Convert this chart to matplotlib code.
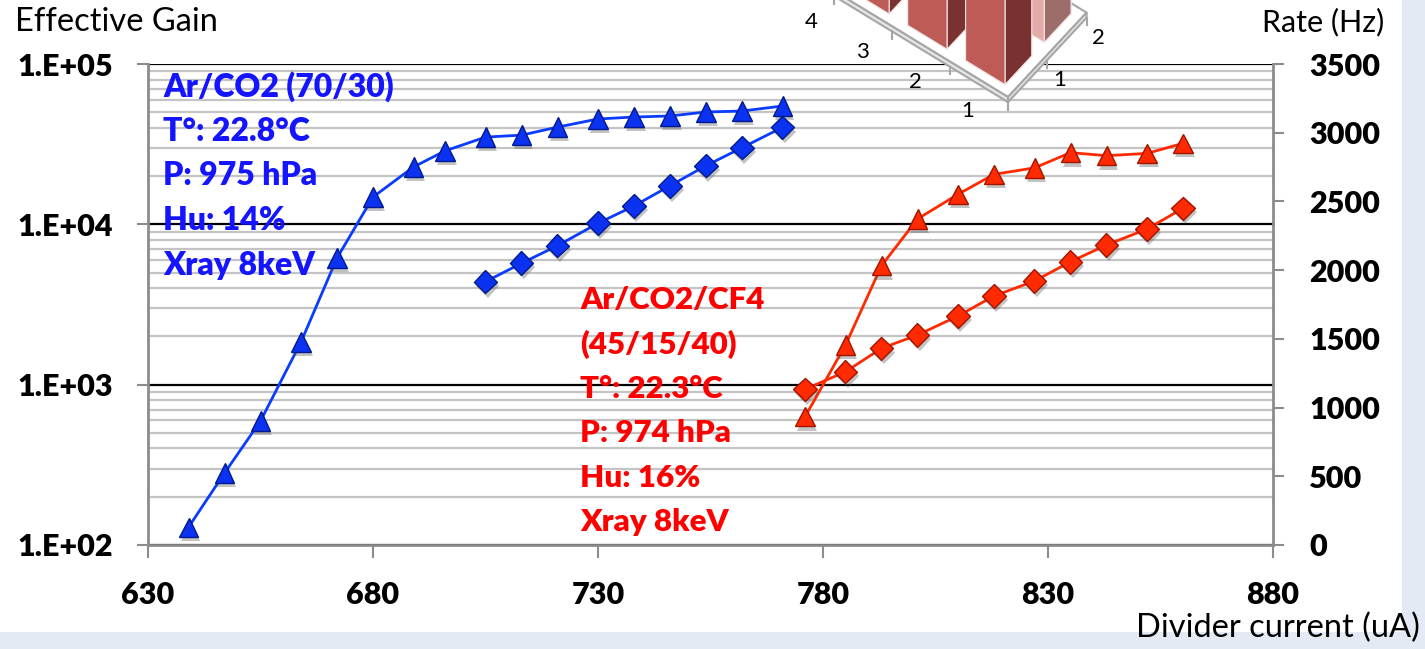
import matplotlib
matplotlib.use('Agg')
import matplotlib.pyplot as plt
import matplotlib.patheffects as pe
import numpy as np
from matplotlib.patches import Rectangle
from matplotlib.ticker import FixedLocator, LogLocator, NullFormatter
from mpl_toolkits.mplot3d import proj3d
from mpl_toolkits.mplot3d.art3d import Poly3DCollection

plt.rcParams['font.family'] = ['Lato', 'DejaVu Sans']

# Ar/CO2 (70/30) : gain (triangles) and rate (diamonds)
blueGainI = [639, 647, 655, 664, 672, 680, 689, 696, 705, 713, 721, 730, 738, 746, 754, 762, 771]
blueGain = [129, 281, 593, 1845, 6160, 14800, 22800, 28700, 35000, 36000, 40400, 45400, 46700, 47400,
             50200, 50900, 54700]
blueRateI = [705, 713, 721, 730, 738, 746, 754, 762, 771]
blueRate = [1916, 2050, 2178, 2341, 2467, 2614, 2760, 2891, 3039]

# Ar/CO2/CF4 (45/15/40)
redI = [776, 785, 793, 801, 810, 818, 827, 835, 843, 852, 860]
redGain = [631, 1766, 5520, 10800, 15400, 20500, 22500, 28000, 26800, 27700, 32000]
redRate = [1133, 1261, 1431, 1528, 1666, 1812, 1921, 2061, 2183, 2299, 2450]

xTicks = [630, 680, 730, 780, 830, 880]
rateTicks = [0, 500, 1000, 1500, 2000, 2500, 3000, 3500]
gainTicks = [1e2, 1e3, 1e4, 1e5]
gainLabels = ['1.E+02', '1.E+03', '1.E+04', '1.E+05']

blueText = ['Ar/CO2 (70/30)', 'T°: 22.8°C', 'P: 975 hPa', 'Hu: 14%', 'Xray 8keV']
redText = ['Ar/CO2/CF4', '(45/15/40)', 'T°: 22.3°C', 'P: 974 hPa', 'Hu: 16%', 'Xray 8keV']

# 3D inset (clipped at the top of the picture)
insetRows = [1, 2, 3, 4]
insetCols = [1, 2]
insetH = [[4.0, 4.5], [3.6, 4.2], [3.3, 3.9], [3.0, 3.6]]

W, H = 1425, 649
TW = 'heavy'
fig = plt.figure(figsize=(W / 100, H / 100), dpi=100, facecolor='#E3EAF4')
fig.patches.append(Rectangle((0, 1 - 632 / H), 1402 / W, 632 / H, transform=fig.transFigure,
                             facecolor='white', edgecolor='none', zorder=-10))

ax = fig.add_axes([148 / W, 1 - 545 / H, 1125 / W, 481 / H])
ax.set_facecolor('none')
ax.set_yscale('log')
ax.set_xlim(630, 880)
ax.set_ylim(1e2, 1e5)
ax.set_xticks(xTicks)
ax.set_xticklabels([str(v) for v in xTicks], fontsize=22, fontweight=TW)
ax.yaxis.set_major_locator(FixedLocator(gainTicks))
ax.set_yticklabels(gainLabels, fontsize=22, fontweight=TW)
ax.yaxis.set_minor_locator(LogLocator(base=10, subs=np.arange(2, 10)))
ax.yaxis.set_minor_formatter(NullFormatter())
ax.grid(which='minor', axis='y', color='#C4C4C4', lw=1.6)
ax.grid(which='major', axis='y', color='black', lw=1.6)
ax.set_axisbelow(True)
ax.tick_params(axis='y', which='minor', length=0)
ax.tick_params(axis='y', which='major', length=8, width=1.5, color='#8C8C8C', pad=17)
ax.tick_params(axis='x', length=9, width=1.5, color='#8C8C8C', pad=17)
for s in ['top', 'right']:
  ax.spines[s].set_visible(False)
for s in ['left', 'bottom']:
  ax.spines[s].set_color('#8C8C8C')
  ax.spines[s].set_linewidth(2)

ax2 = ax.twinx()
ax2.set_ylim(0, 3500)
ax2.set_yticks(rateTicks)
ax2.set_yticklabels([str(v) for v in rateTicks], fontsize=22, fontweight=TW)
ax2.tick_params(axis='y', length=8, width=1.5, color='#8C8C8C', pad=18)
for s in ['top', 'left', 'bottom']:
  ax2.spines[s].set_visible(False)
ax2.spines['right'].set_color('#8C8C8C')
ax2.spines['right'].set_linewidth(2)

blueLine, blueFace, blueEdge = '#0A3CFF', '#0A32F0', '#001A8C'
redLine, redFace, redEdge = '#FF2A00', '#FF2A00', '#A01400'
shadow = [pe.SimplePatchShadow(offset=(1.5, -3), shadow_rgbFace='#555555', alpha=0.35), pe.Normal()]

ax.plot(blueGainI, blueGain, color=blueLine, lw=2)
ax.plot(blueGainI, blueGain, ls='none', marker='^', ms=14, mfc=blueFace, mec=blueEdge, mew=1,
        path_effects=shadow)
ax2.plot(blueRateI, blueRate, color=blueLine, lw=2)
ax2.plot(blueRateI, blueRate, ls='none', marker='D', ms=12, mfc=blueFace, mec=blueEdge, mew=1,
         path_effects=shadow)
ax.plot(redI, redGain, color=redLine, lw=2)
ax.plot(redI, redGain, ls='none', marker='^', ms=14, mfc=redFace, mec=redEdge, mew=1,
        path_effects=shadow)
ax2.plot(redI, redRate, color=redLine, lw=2)
ax2.plot(redI, redRate, ls='none', marker='D', ms=12, mfc=redFace, mec=redEdge, mew=1,
         path_effects=shadow)

for i, t in enumerate(blueText):
  fig.text(163 / W, 1 - (87 + 44.5 * i) / H, t, color='#1414FF', fontsize=23, fontweight=TW,
           ha='left', va='center')
for i, t in enumerate(redText):
  fig.text(580 / W, 1 - (300 + 44.4 * i) / H, t, color='#FF0000', fontsize=22.5, fontweight=TW,
           ha='left', va='center')

fig.text(15 / W, 1 - 22 / H, 'Effective Gain', fontsize=23.5, ha='left', va='center')
fig.text(1384 / W, 1 - 22 / H, 'Rate (Hz)', fontsize=22, ha='right', va='center')
fig.text(1420 / W, 1 - 628 / H, 'Divider current (uA)', fontsize=23.5, ha='right', va='center')

# ---- 3D inset ----
ax3 = fig.add_axes([0.55, 0.55, 0.3, 0.6], projection='3d', zorder=5)
ax3.set_proj_type('ortho')
ax3.view_init(elev=54, azim=127)
ax3.set_xlim(0.5, 4.5)
ax3.set_ylim(-2.5, -0.5)
ax3.set_zlim(-0.2, 6)
ax3.set_box_aspect((4, 1.8, 6.2))
ax3.set_xticks([])
ax3.set_yticks([])
ax3.set_zticks([])
for axis in (ax3.xaxis, ax3.yaxis, ax3.zaxis):
  axis.label.set_visible(False)
  axis.offsetText.set_visible(False)
ax3.set_axis_off()
ax3.patch.set_alpha(0)
ax3.computed_zorder = False

floor = [[(0.5, -0.5, 0), (4.5, -0.5, 0), (4.5, -2.5, 0), (0.5, -2.5, 0)],
         [(0.5, -0.5, 0), (4.5, -0.5, 0), (4.5, -0.5, -0.12), (0.5, -0.5, -0.12)],
         [(0.5, -0.5, 0), (0.5, -2.5, 0), (0.5, -2.5, -0.12), (0.5, -0.5, -0.12)]]
ax3.add_collection3d(Poly3DCollection(floor, facecolors=['white', '#E6E6E6', '#E6E6E6'],
                                      edgecolors='#A6A6A6', linewidths=1.5, zorder=1))
for r in np.arange(0.5, 5, 1):
  ax3.plot([r, r], [-0.5, -0.5], [-0.12, -0.3], color='#A6A6A6', lw=1.5, zorder=1)
for c in np.arange(0.5, 3, 1):
  ax3.plot([0.5, 0.5], [-c, -c], [-0.12, -0.3], color='#A6A6A6', lw=1.5, zorder=1)

xs, ys, hs, cols = [], [], [], []
faceSets = {1: ['#C0504D', '#D66A66', '#C0504D', '#BF5B57', '#7A3230', '#C0504D'],
            2: ['#E4ACA8', '#EFC2BF', '#E4ACA8', '#E4ACA8', '#9C6D6B', '#E4ACA8']}
for ri, r in enumerate(insetRows):
  for ci, c in enumerate(insetCols):
    xs.append(r - 0.34)
    ys.append(-c - 0.34)
    hs.append(insetH[ri][ci])
    cols += faceSets[c]
ax3.bar3d(xs, ys, np.zeros(len(xs)), 0.68, 0.68, hs, color=cols, shade=False,
          edgecolor='#F3E6E6', linewidth=0.8, zorder=2)

# category labels along the floor edges (perspective-ish spacing)
for r in insetRows:
  ax3.text(r - 0.1 * (r - 1), -0.2, -0.45 - 0.05 * (r - 1), str(r), fontsize=16, ha='center',
           va='center', zorder=3)
for c in insetCols:
  ax3.text(-0.05, -c, 0.35, str(c), fontsize=16, ha='center', va='center', zorder=3)


def projPx(a, x, y, z):
  px, py, _ = proj3d.proj_transform(x, y, z, a.get_proj())
  return a.transData.transform((px, py))


target0 = np.array([1008.0, H - 97.0])
target1 = np.array([1087.0, H - 13.0])
for _ in range(3):
  fig.canvas.draw()
  p0 = projPx(ax3, 0.5, -0.5, 0)
  p1 = projPx(ax3, 0.5, -2.5, 0)
  k = np.hypot(*(target1 - target0)) / np.hypot(*(p1 - p0))
  bb = ax3.get_position(original=True)
  cx, cy = (bb.x0 + bb.width / 2) * W, (bb.y0 + bb.height / 2) * H
  p0n = np.array([cx, cy]) + k * (p0 - np.array([cx, cy]))
  shift = target0 - p0n
  nw, nh = bb.width * k, bb.height * k
  ax3.set_position([(cx + shift[0]) / W - nw / 2, (cy + shift[1]) / H - nh / 2, nw, nh])

fig.savefig('out.png', dpi=100, facecolor=fig.get_facecolor())
